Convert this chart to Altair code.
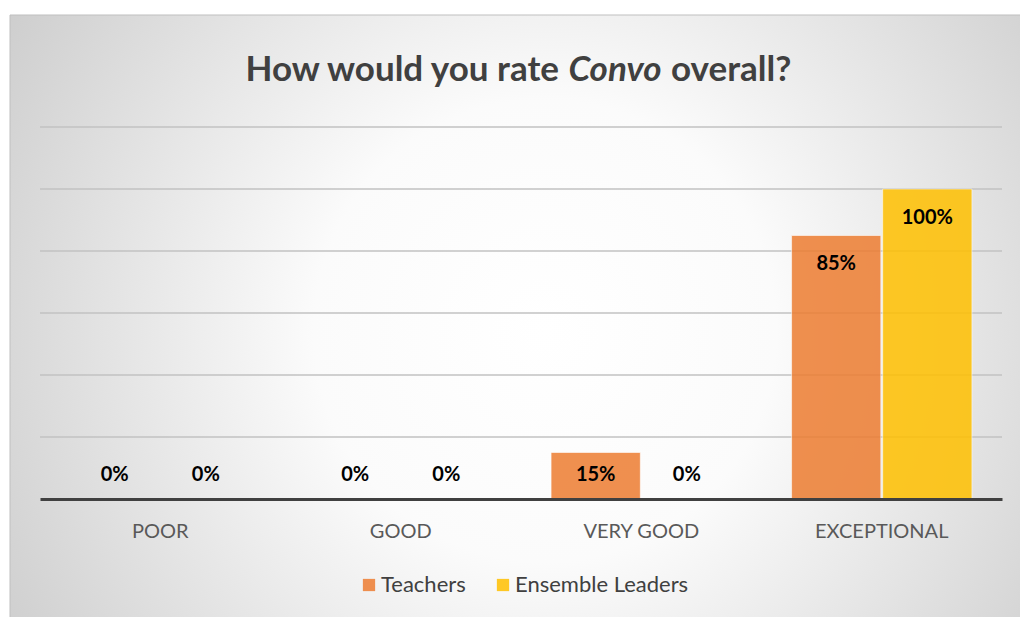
import altair as alt
import pandas as pd

categories = ["POOR", "GOOD", "VERY GOOD", "EXCEPTIONAL"]
series_names = ["Teachers", "Ensemble Leaders"]
teachers = [0.0, 0.0, 0.15, 0.85]
leaders = [0.0, 0.0, 0.0, 1.0]
grid_values = [0.2, 0.4, 0.6, 0.8, 1.0, 1.2]
colors = ["#ED7D31", "#FFC000"]

rows = []
for c, t, l in zip(categories, teachers, leaders):
    rows.append({"category": c, "series": "Teachers", "value": t})
    rows.append({"category": c, "series": "Ensemble Leaders", "value": l})
df = pd.DataFrame(rows)
grid_df = pd.DataFrame({"g": grid_values})

W, H = 962, 372
FONT = "Lato"

yscale = alt.Scale(domain=[0, 1.2], nice=False, zero=True)
xenc = alt.X(
    "category:N",
    sort=categories,
    scale=alt.Scale(paddingInner=0.25, paddingOuter=0.125),
    axis=alt.Axis(
        title=None, ticks=False, domain=True, domainColor="#404040", domainWidth=3,
        labelFontSize=20, labelColor="#595959", labelFont=FONT, labelPadding=22,
        labelAngle=0, zindex=1,
    ),
)
xoff = alt.XOffset("series:N", sort=series_names, scale=alt.Scale(paddingInner=0.02))

bg = alt.Chart(alt.Data(values=[{}])).mark_rect(
    fill=alt.RadialGradient(
        gradient="radial", x1=0.5, y1=0.5, r1=0, x2=0.5, y2=0.5, r2=0.72,
        stops=[
            alt.GradientStop(offset=0, color="#ffffff"),
            alt.GradientStop(offset=0.3, color="#fbfbfb"),
            alt.GradientStop(offset=1, color="#bdbdbd"),
        ],
    ),
    stroke="#bfbfbf", strokeWidth=1,
).encode(x=alt.value(-30), x2=alt.value(1040), y=alt.value(-112), y2=alt.value(520))

grid = alt.Chart(grid_df).mark_rule(color="#c2c2c2", strokeWidth=1.3).encode(
    y=alt.Y("g:Q", scale=yscale, axis=None), x=alt.value(0), x2=alt.value(W)
)

bars = alt.Chart(df).mark_bar(opacity=0.85, stroke="#ffffff", strokeWidth=1, strokeOpacity=0.6).encode(
    x=xenc,
    xOffset=xoff,
    y=alt.Y("value:Q", scale=yscale, axis=None),
    color=alt.Color(
        "series:N",
        sort=series_names,
        scale=alt.Scale(domain=series_names, range=colors),
        legend=alt.Legend(
            title=None, orient="none", direction="horizontal", legendX=318, legendY=447,
            symbolType="square", symbolSize=150, symbolOpacity=0.85, symbolStrokeWidth=0,
            labelFontSize=22, labelColor="#404040", labelFont=FONT, columnPadding=26,
            labelOffset=1, labelLimit=400,
        ),
    ),
)

labels = alt.Chart(df).transform_calculate(
    label_y="max(datum.value - 0.092, 0.077)"
).mark_text(fontSize=20, fontWeight="bold", font=FONT, color="#000000", baseline="middle").encode(
    x=xenc,
    xOffset=xoff,
    y=alt.Y("label_y:Q", scale=yscale, axis=None),
    text=alt.Text("value:Q", format=".0%"),
)

tstyle = dict(fontSize=35, fontWeight="bold", font=FONT, color="#404040", baseline="alphabetic")
t1 = alt.Chart(alt.Data(values=[{}])).mark_text(align="right", **tstyle).encode(
    x=alt.value(519), y=alt.value(-46), text=alt.value("How would you rate")
)
t2 = alt.Chart(alt.Data(values=[{}])).mark_text(align="center", fontStyle="italic", **tstyle).encode(
    x=alt.value(575), y=alt.value(-46), text=alt.value("Convo")
)
t3 = alt.Chart(alt.Data(values=[{}])).mark_text(align="left", **tstyle).encode(
    x=alt.value(631), y=alt.value(-46), text=alt.value("overall?")
)

chart = alt.layer(bg, grid, bars, labels, t1, t2, t3).properties(
    width=W, height=H,
    autosize=alt.AutoSizeParams(type="none"),
    padding={"left": 40, "top": 127, "right": 18, "bottom": 118},
).configure_view(stroke=None).configure(background="#ffffff")

chart.save("out.html", embed_options={"renderer": "svg", "actions": False})
